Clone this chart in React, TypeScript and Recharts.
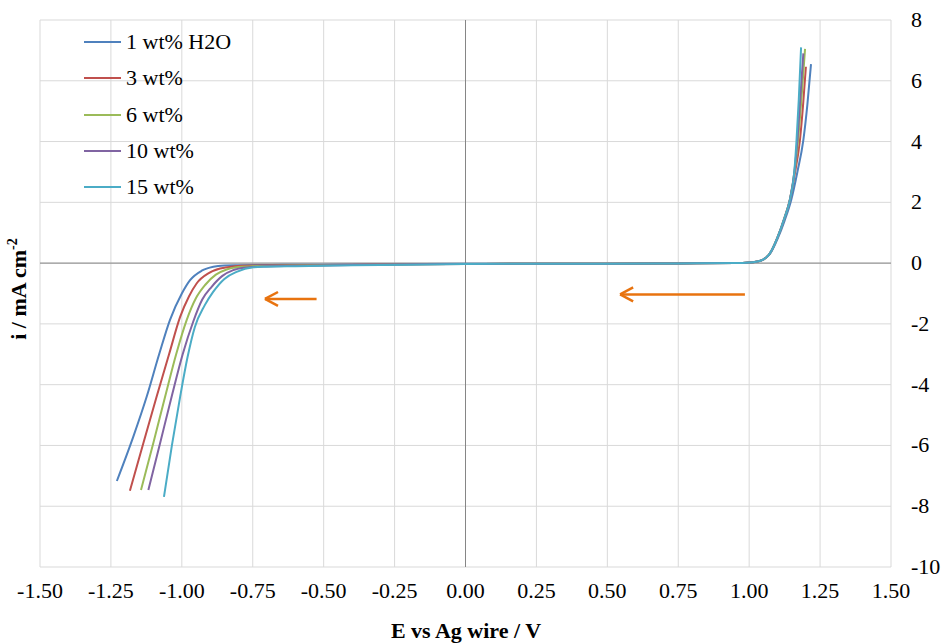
import React from "react";
import {
  LineChart,
  Line,
  XAxis,
  YAxis,
  CartesianGrid,
  ReferenceLine,
  Legend,
} from "recharts";

// potential (V vs Ag wire) and current density (mA cm-2) per water content
const names = ["1 wt% H2O", "3 wt%", "6 wt%", "10 wt%", "15 wt%"];
const colors = ["#4F81BD", "#C0504D", "#9BBB59", "#8064A2", "#4BACC6"];

const E1 = [-1.229, -1.171, -1.124, -1.08, -1.042, -1.0, -0.971, -0.93, -0.889, -0.85, -0.8, -0.7, -0.5, -0.25, 0, 0.25, 0.5, 0.75, 0.95, 1.0, 1.04, 1.073, 1.1, 1.125, 1.148, 1.17, 1.191, 1.205, 1.218];
const I1 = [-7.17, -5.71, -4.4, -3.0, -1.875, -1.0, -0.56, -0.25, -0.12, -0.08, -0.07, -0.06, -0.05, -0.04, -0.02, -0.02, -0.02, -0.01, 0, 0.02, 0.08, 0.3, 0.8, 1.4, 2.07, 3.0, 4.05, 5.2, 6.55];

const E2 = [-1.183, -1.135, -1.089, -1.045, -1.006, -0.975, -0.948, -0.905, -0.865, -0.82, -0.75, -0.6, -0.4, -0.2, 0, 0.25, 0.5, 0.75, 0.95, 1.0, 1.04, 1.073, 1.1, 1.125, 1.144, 1.16, 1.179, 1.19, 1.2];
const I2 = [-7.49, -5.9, -4.4, -3.0, -1.77, -1.1, -0.67, -0.33, -0.18, -0.11, -0.08, -0.07, -0.05, -0.04, -0.03, -0.02, -0.02, -0.01, 0, 0.02, 0.08, 0.32, 0.85, 1.5, 2.1, 2.9, 4.05, 5.2, 6.46];

const E3 = [-1.144, -1.1, -1.059, -1.02, -0.983, -0.95, -0.918, -0.88, -0.842, -0.8, -0.75, -0.6, -0.4, -0.2, 0, 0.25, 0.5, 0.75, 0.95, 1.0, 1.04, 1.073, 1.1, 1.125, 1.144, 1.16, 1.172, 1.185, 1.197];
const I3 = [-7.47, -5.9, -4.4, -3.0, -1.875, -1.15, -0.72, -0.38, -0.21, -0.13, -0.1, -0.08, -0.06, -0.04, -0.03, -0.02, -0.02, -0.01, 0, 0.02, 0.08, 0.32, 0.85, 1.5, 2.1, 3.0, 4.0, 5.5, 7.05];

const E4 = [-1.118, -1.076, -1.036, -0.997, -0.96, -0.928, -0.895, -0.857, -0.819, -0.78, -0.72, -0.6, -0.4, -0.2, 0, 0.25, 0.5, 0.75, 0.95, 1.0, 1.04, 1.073, 1.1, 1.125, 1.144, 1.16, 1.17, 1.18, 1.191];
const I4 = [-7.47, -5.9, -4.4, -3.0, -1.93, -1.2, -0.78, -0.42, -0.23, -0.15, -0.11, -0.09, -0.06, -0.04, -0.03, -0.02, -0.02, -0.01, 0, 0.02, 0.08, 0.32, 0.85, 1.5, 2.1, 3.05, 4.05, 5.4, 6.9];

const E5 = [-1.063, -1.035, -1.006, -0.98, -0.954, -0.92, -0.889, -0.85, -0.807, -0.748, -0.7, -0.6, -0.4, -0.2, 0, 0.25, 0.5, 0.75, 0.95, 1.0, 1.04, 1.073, 1.1, 1.125, 1.144, 1.16, 1.167, 1.175, 1.183];
const I5 = [-7.69, -6.0, -4.4, -3.1, -2.1, -1.4, -0.94, -0.52, -0.29, -0.14, -0.12, -0.1, -0.07, -0.05, -0.03, -0.02, -0.02, -0.01, 0, 0.02, 0.08, 0.32, 0.85, 1.5, 2.1, 3.1, 4.05, 5.4, 7.1];

const xTicks = [-1.5, -1.25, -1.0, -0.75, -0.5, -0.25, 0, 0.25, 0.5, 0.75, 1.0, 1.25, 1.5];
const yTicks = [-10, -8, -6, -4, -2, 0, 2, 4, 6, 8];

// scan direction arrows: [tail E, tip E, i]
const arrows = [
  [-0.525, -0.707, -1.18],
  [0.985, 0.545, -1.03],
];

const series = [
  [E1, I1],
  [E2, I2],
  [E3, I3],
  [E4, I4],
  [E5, I5],
].map(([es, is], k) => ({
  name: names[k],
  color: colors[k],
  data: es.map((e, j) => ({ E: e, i: is[j] })),
}));

const FONT = "Liberation Serif, Times New Roman, serif";
const ORANGE = "#E8730F";
const txt = { fontFamily: FONT, fontSize: 22, fill: "#000" };

const XTick = ({ x, y, payload }: any) => (
  <text x={x} y={y + 23} textAnchor="middle" style={txt}>
    {Number(payload.value).toFixed(2)}
  </text>
);

const YTick = ({ x, y, payload }: any) => (
  <text x={x} y={y + 7} textAnchor="start" style={txt}>
    {payload.value}
  </text>
);

const LegendBox = () => (
  <div style={{ fontFamily: FONT, fontSize: 22, color: "#000" }}>
    {series.map((s) => (
      <div key={s.name} style={{ display: "flex", alignItems: "center", height: 36.3 }}>
        <div style={{ width: 37, height: 2, background: s.color, marginRight: 5 }} />
        <span style={{ lineHeight: "22px" }}>{s.name}</span>
      </div>
    ))}
  </div>
);

const YLabel = () => (
  <text
    x={26}
    y={289}
    transform="rotate(-90, 26, 289)"
    textAnchor="middle"
    style={{ ...txt, fontWeight: "bold" }}
  >
    i / mA cm
    <tspan style={{ fontSize: 14 }} dy={-9}>-2</tspan>
  </text>
);

const XLabel = () => (
  <text x={466} y={638} textAnchor="middle" style={{ ...txt, fontWeight: "bold" }}>
    E vs Ag wire / V
  </text>
);

export default function App() {
  return (
    <div style={{ position: "absolute", left: 0, top: 0, background: "#fff", fontFamily: FONT }}>
      <LineChart
        width={943}
        height={644}
        margin={{ top: 20, right: 0, bottom: 0, left: 0 }}
        style={{ fontFamily: FONT }}
      >
        <CartesianGrid stroke="#D9D9D9" strokeWidth={1} yAxisId="r" />
        <XAxis
          type="number"
          dataKey="E"
          domain={[-1.5, 1.5]}
          ticks={xTicks}
          allowDataOverflow
          axisLine={false}
          tickLine={false}
          height={77}
          tick={<XTick />}
          label={{ content: () => <XLabel /> }}
        />
        <YAxis
          yAxisId="l"
          orientation="left"
          width={40}
          domain={[-10, 8]}
          ticks={yTicks}
          tick={false}
          axisLine={false}
          tickLine={false}
          label={{ content: () => <YLabel /> }}
        />
        <YAxis
          yAxisId="r"
          orientation="right"
          width={52}
          type="number"
          domain={[-10, 8]}
          ticks={yTicks}
          allowDataOverflow
          axisLine={false}
          tickLine={false}
          tickMargin={14}
          tick={<YTick />}
        />
        <ReferenceLine yAxisId="r" x={0} stroke="#868686" strokeWidth={1} />
        <ReferenceLine yAxisId="r" y={0} stroke="#868686" strokeWidth={1} />
        {arrows.map(([tail, tip, y], k) => (
          <React.Fragment key={k}>
            <ReferenceLine yAxisId="r" segment={[{ x: tail, y }, { x: tip, y }]} stroke={ORANGE} strokeWidth={2.5} />
            <ReferenceLine yAxisId="r" segment={[{ x: tip + 0.046, y: y + 0.23 }, { x: tip, y }]} stroke={ORANGE} strokeWidth={2.5} />
            <ReferenceLine yAxisId="r" segment={[{ x: tip + 0.046, y: y - 0.23 }, { x: tip, y }]} stroke={ORANGE} strokeWidth={2.5} />
          </React.Fragment>
        ))}
        {series.map((s) => (
          <Line
            key={s.name}
            yAxisId="r"
            data={s.data}
            dataKey="i"
            name={s.name}
            type="monotone"
            stroke={s.color}
            strokeWidth={2}
            dot={false}
            isAnimationActive={false}
          />
        ))}
        <Legend
          layout="vertical"
          align="center"
          verticalAlign="middle"
          wrapperStyle={{ left: 84, top: 24, width: 200, height: 190 }}
          content={() => <LegendBox />}
        />
      </LineChart>
    </div>
  );
}
